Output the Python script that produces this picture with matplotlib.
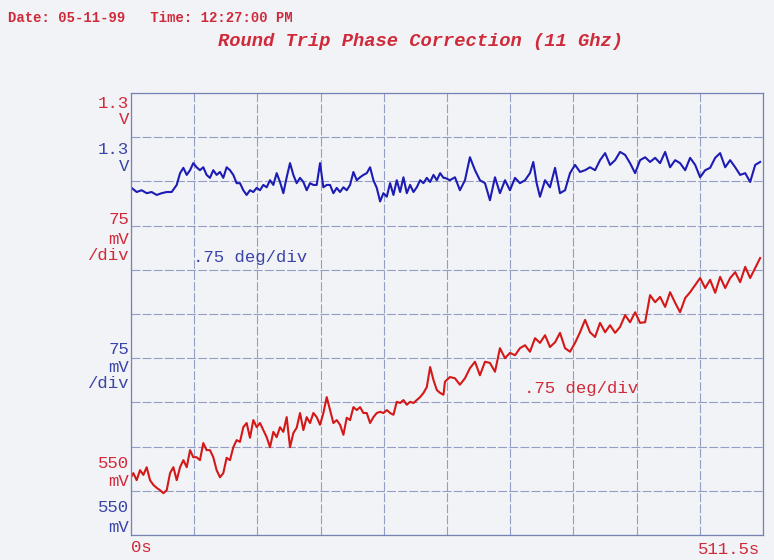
import numpy as np
import matplotlib
matplotlib.use("Agg")
import matplotlib.pyplot as plt

# strip chart: both channels share 550 mV .. 1.3 V, 75 mV/div, 0 .. 511.5 s
t_start, t_end = 0.0, 511.5
v_bottom, v_top, v_div = 550, 1300, 75

# blue channel (mV)
blue_t = [0.5, 4.6, 8.6, 12.7, 16.7, 20.8, 24.8, 28.9, 32.9, 37.0,
          39.7, 42.4, 45.1, 47.8, 50.4, 53.1, 55.8, 58.5, 61.2, 63.9,
          66.6, 69.3, 72.0, 74.7, 77.4, 80.1, 82.8, 85.5, 88.2, 90.9,
          93.6, 96.3, 99.0, 101.7, 104.4, 107.1, 109.8, 112.5, 115.2, 117.9,
          120.6, 123.3, 126.0, 128.7, 131.4, 134.1, 136.8, 139.5, 142.2, 144.9,
          147.6, 150.3, 153.0, 155.7, 158.4, 161.1, 163.8, 166.5, 169.2, 171.9,
          174.6, 177.3, 180.0, 182.7, 185.4, 188.1, 190.8, 193.5, 196.2, 198.9,
          201.6, 204.3, 207.0, 209.7, 212.4, 215.1, 217.8, 220.5, 223.2, 225.9,
          228.6, 231.3, 234.0, 236.7, 239.4, 242.1, 244.8, 247.5, 250.2, 252.9,
          254.1, 258.1, 262.2, 266.2, 270.3, 274.3, 278.4, 282.4, 286.5, 290.5,
          294.6, 298.6, 302.7, 306.7, 310.8, 314.8, 318.9, 322.9, 325.6, 328.3,
          331.0, 335.1, 339.1, 343.2, 347.2, 351.3, 355.3, 359.4, 363.4, 367.5,
          371.5, 375.6, 379.6, 383.7, 387.7, 391.8, 395.8, 399.9, 403.9, 408.0,
          412.0, 416.1, 420.1, 424.2, 428.2, 432.3, 436.3, 440.4, 444.4, 448.5,
          452.5, 456.6, 460.6, 464.7, 468.7, 472.8, 476.8, 480.9, 484.9, 489.0,
          493.0, 497.1, 501.1, 505.2, 509.2]
blue_mv = [1139, 1132, 1135, 1130, 1132, 1127, 1130, 1132, 1132, 1144,
           1164, 1173, 1161, 1169, 1181, 1174, 1169, 1174, 1161, 1156,
           1169, 1161, 1166, 1156, 1174, 1169, 1161, 1147, 1147, 1135,
           1127, 1135, 1132, 1139, 1135, 1144, 1140, 1152, 1144, 1164,
           1149, 1130, 1157, 1181, 1161, 1147, 1156, 1149, 1135, 1147,
           1144, 1144, 1181, 1140, 1144, 1144, 1130, 1139, 1132, 1140,
           1135, 1144, 1166, 1152, 1157, 1161, 1164, 1174, 1152, 1139,
           1116, 1130, 1124, 1147, 1127, 1152, 1132, 1157, 1130, 1144,
           1132, 1140, 1152, 1147, 1156, 1149, 1161, 1152, 1164, 1156,
           1156, 1152, 1157, 1135, 1152, 1191, 1169, 1152, 1147, 1118,
           1157, 1130, 1152, 1135, 1156, 1147, 1152, 1164, 1183, 1147,
           1124, 1152, 1140, 1173, 1130, 1135, 1164, 1178, 1166, 1169,
           1174, 1169, 1186, 1198, 1178, 1186, 1200, 1195, 1181, 1164,
           1186, 1191, 1183, 1190, 1181, 1200, 1174, 1186, 1181, 1169,
           1190, 1178, 1157, 1169, 1173, 1190, 1198, 1174, 1186, 1174,
           1161, 1164, 1149, 1178, 1183]

# red channel (mV)
red_t = [0.0, 1.9, 4.6, 7.3, 10.0, 12.7, 15.4, 18.1, 20.8, 23.5,
         26.2, 28.9, 31.6, 34.3, 37.0, 39.7, 42.4, 45.1, 47.8, 50.4,
         53.1, 55.8, 58.5, 61.2, 63.9, 66.6, 69.3, 72.0, 74.7, 77.4,
         80.1, 82.8, 85.5, 88.2, 90.9, 93.6, 96.3, 99.0, 101.7, 104.4,
         107.1, 109.8, 112.5, 115.2, 117.9, 120.6, 123.3, 126.0, 128.7, 131.4,
         134.1, 136.8, 139.5, 142.2, 144.9, 147.6, 150.3, 153.0, 155.7, 158.4,
         161.1, 163.8, 166.5, 169.2, 171.9, 174.6, 177.3, 180.0, 182.7, 185.4,
         188.1, 190.8, 193.5, 196.2, 198.9, 201.6, 204.3, 207.0, 209.7, 212.4,
         215.1, 217.8, 220.5, 223.2, 225.9, 228.6, 231.3, 234.0, 236.7, 239.4,
         242.1, 244.8, 247.5, 250.2, 252.9,
         254.1, 258.1, 262.2, 266.2, 270.3, 274.3, 278.4, 282.4, 286.5, 290.5,
         294.6, 298.6, 302.7, 306.7, 310.8, 314.8, 318.9, 322.9, 327.0, 331.0,
         335.1, 339.1, 343.2, 347.2, 351.3, 355.3, 359.4, 363.4, 367.5, 371.5,
         375.6, 379.6, 383.7, 387.7, 391.8, 395.8, 399.9, 403.9, 408.0, 412.0,
         416.1, 420.1, 424.2, 428.2, 432.3, 436.3, 440.4, 444.4, 448.5, 452.5,
         456.6, 460.6, 464.7, 468.7, 472.8, 476.8, 480.9, 484.9, 489.0, 493.0,
         497.1, 501.1, 505.2, 509.2]
red_mv = [648, 655, 643, 660, 652, 665, 643, 635, 630, 626,
          621, 626, 655, 665, 643, 665, 677, 665, 694, 682,
          682, 677, 706, 694, 694, 682, 660, 648, 655, 681,
          677, 699, 711, 708, 733, 740, 715, 745, 733, 740,
          728, 716, 699, 725, 716, 733, 725, 750, 699, 723,
          732, 757, 728, 750, 740, 757, 750, 737, 757, 784,
          762, 740, 745, 737, 720, 749, 745, 767, 762, 767,
          757, 757, 740, 750, 757, 759, 757, 762, 757, 754,
          776, 774, 779, 771, 776, 774, 779, 784, 791, 801,
          835, 813, 796, 791, 788,
          810, 818, 816, 805, 816, 833, 844, 821, 844, 842,
          827, 867, 850, 859, 855, 867, 872, 861, 884, 876,
          889, 869, 877, 893, 867, 861, 876, 894, 915, 894,
          886, 910, 894, 906, 893, 903, 923, 911, 928, 910,
          911, 957, 945, 954, 937, 962, 944, 928, 952, 962,
          974, 986, 969, 983, 961, 988, 969, 986, 996, 979,
          1005, 986, 1003, 1020]

paper = "#f2f3f6"
grid_c = "#7482b4"
blue = "#1c1cb4"
red = "#d41818"
red_txt = "#d02a3a"
blue_txt = "#3a44a8"
mono = ["Liberation Mono", "DejaVu Sans Mono"]

fig = plt.figure(figsize=(7.74, 5.60), dpi=100, facecolor=paper)
ax = fig.add_axes([131 / 774, 25 / 560, 632 / 774, 442 / 560])
ax.set_facecolor(paper)

ax.plot(blue_t, blue_mv, color=blue, lw=1.5)
ax.plot(red_t, red_mv, color=red, lw=1.5)

ax.set_xlim(t_start, t_end)
ax.set_ylim(v_bottom, v_top)
ax.set_xticks(np.linspace(t_start, t_end, 11))
ax.set_yticks(np.arange(v_bottom, v_top + 1, v_div))
ax.grid(True, color=grid_c, lw=0.8, ls=(0, (8, 2)), alpha=0.75)
ax.tick_params(length=0, labelbottom=False, labelleft=False)
for s in ax.spines.values():
    s.set_color(grid_c)
    s.set_linewidth(0.9)


def ftext(x, y, s, color, ha="right", size=12.5, **kw):
    fig.text(x / 774, 1 - y / 560, s, color=color, ha=ha, va="center",
             family=mono, fontsize=size, **kw)


# header
ftext(8, 18, "Date: 05-11-99   Time: 12:27:00 PM", red_txt, ha="left",
      size=10, weight="bold")
ftext(420, 42, "Round Trip Phase Correction (11 Ghz)", red_txt, ha="center",
      size=13.5, style="italic", weight="bold")

# left scale labels
ftext(129, 104, "1.3", red_txt)
ftext(129, 120, "V", red_txt)
ftext(129, 150, "1.3", blue_txt)
ftext(129, 166, "V", blue_txt)
ftext(129, 220, "75", red_txt)
ftext(129, 239, "mV", red_txt)
ftext(129, 256, "/div", red_txt)
ftext(129, 349, "75", blue_txt)
ftext(129, 368, "mV", blue_txt)
ftext(129, 384, "/div", blue_txt)
ftext(129, 463, "550", red_txt)
ftext(129, 481, "mV", red_txt)
ftext(129, 508, "550", blue_txt)
ftext(129, 527, "mV", blue_txt)

# time axis ends
ftext(131, 547, "0s", red_txt, ha="left")
ftext(760, 550, "511.5s", red_txt)

# channel sensitivities
ftext(193, 258, ".75 deg/div", blue_txt, ha="left")
ftext(524, 388, ".75 deg/div", red_txt, ha="left")

fig.savefig("out.png", dpi=100, facecolor=paper)
